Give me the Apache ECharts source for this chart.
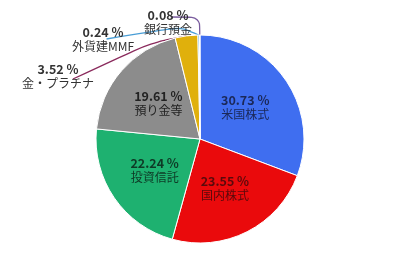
<!DOCTYPE html>
<html><head><meta charset="utf-8">
<script src="https://cdn.jsdelivr.net/npm/echarts@6/dist/echarts.min.js"></script>
<style>html,body{margin:0;padding:0;background:#fff}#c{width:400px;height:260px}</style>
</head><body><div id="c"></div>
<script>
var categories = ['米国株式','国内株式','投資信託','預り金等','金・プラチナ','外貨建MMF','銀行預金'];
var values = [30.73, 23.55, 22.24, 19.61, 3.52, 0.24, 0.08];
var colors = ['#3f6ef0','#ea0a0c','#1eb170','#8c8c8c','#e0b00c','#6ab4e6','#9a80c0'];
var labelColors = ['#1b2858','#5a0a0c','#0e3a26','#222222','#333333','#333333','#333333'];
var lineColors = [null,null,null,null,'#8a2a5c','#4a9ed6','#7a5c9e'];
// outside label placement (center x, center y)
var outsidePos = {4:[58,76],5:[103,39],6:[168,22]};

var data = categories.map(function(n,i){
  var d = {name:n, value:values[i], itemStyle:{color:colors[i]}};
  if (outsidePos[i]) {
    d.label = {position:'outside', color:labelColors[i]};
    d.labelLine = {show:true, length:10, length2:10, smooth:0.3, lineStyle:{color:lineColors[i], width:1.3}};
  } else {
    d.label = {position:'inside', color:labelColors[i]};
    d.labelLine = {show:false};
  }
  return d;
});

var chart = echarts.init(document.getElementById('c'), null, {renderer:'canvas'});
chart.setOption({
  animation:false,
  series:[{
    type:'pie', center:[200,139], radius:[0,104], startAngle:90, clockwise:true, avoidLabelOverlap:false,
    itemStyle:{borderColor:'#ffffff', borderWidth:1},
    label:{
      fontFamily:'"Noto Sans CJK JP", sans-serif', fontSize:12, lineHeight:14, align:'center',
      formatter:function(p){ return '{p|' + p.value.toFixed(2) + ' %}\n{n|' + p.name + '}'; },
      rich:{
        p:{fontWeight:'bold', fontSize:12.5, lineHeight:14, fontFamily:'"Noto Sans CJK JP", sans-serif'},
        n:{fontSize:12, lineHeight:14, fontFamily:'"Noto Sans CJK JP", sans-serif'}
      }
    },
    labelLayout:function(params){
      var i = params.dataIndex;
      var pos = outsidePos[i];
      if (!pos) return {};
      var w = params.rect.width;
      var res = {x:pos[0], y:pos[1], align:'center', verticalAlign:'middle'};
      var pts = params.labelLinePoints;
      if (pts && pts.length) {
        var p0 = [pts[0][0], pts[0][1]];
        var right = pos[0] + w/2 + 2;
        var p1, p2;
        if (i === 6) {        // 銀行預金: up, then left into the label
          p2 = [right, pos[1] - 5];
          p1 = [p0[0], p2[1]];
        } else if (i === 5) { // 外貨建MMF: up, then gently down-left
          p2 = [right, pos[1]];
          p1 = [p0[0] - 18, p0[1] - 8];
        } else {              // 金・プラチナ: just outside the arc
          p2 = [right, pos[1] + 3];
          p1 = [p0[0] - 36, p0[1] + 7];
        }
        res.labelLinePoints = [p0, p1, p2];
      }
      return res;
    },
    data:data
  }]
});
</script></body></html>
